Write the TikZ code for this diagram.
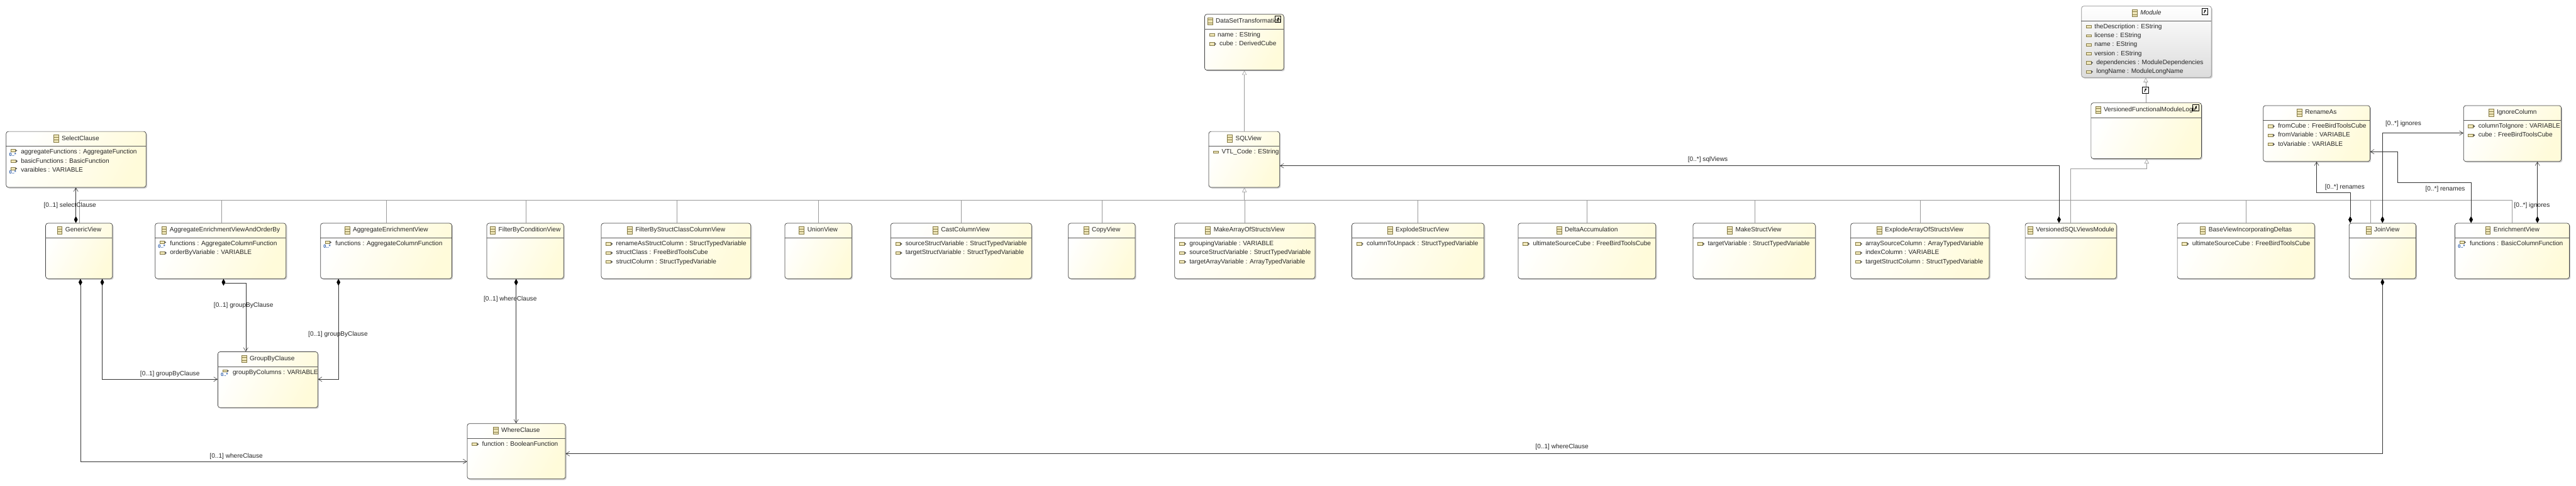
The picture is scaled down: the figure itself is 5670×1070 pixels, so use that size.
\documentclass[tikz,border=0pt]{standalone}
\usepackage{fontspec}
\setmainfont{Liberation Sans}
\usepackage{tikz}
\usetikzlibrary{arrows.meta,calc}
\definecolor{boxyellow}{HTML}{FFFBDA}
\definecolor{boxgray}{HTML}{DCDCDC}
\definecolor{icontan}{HTML}{EFE6B8}
\definecolor{iconedge}{HTML}{857A45}
\definecolor{genline}{HTML}{9A9A9A}
\definecolor{manyblue}{HTML}{2A5CAA}
\tikzset{
  box/.style={draw=black!75, rounded corners=5pt, top color=white, bottom color=boxyellow,
              shading angle=62, inner sep=0pt, line width=1pt},
  absbox/.style={box, draw=black!45, bottom color=boxgray},
  shade/.style={fill=black!18, rounded corners=5pt},
  hdr/.style={draw=black!65, line width=1pt},
  ttl/.style={font=\fontsize{14}{16}\selectfont, inner sep=0pt, text=black!85,
              text height=10.5pt, text depth=3pt},
  att/.style={ttl, anchor=west},
  lbl/.style={ttl},
  rel/.style={line width=.8pt, black!80},
  comp/.style={rel, {Diamond[length=15pt,width=8pt,black]}-{Straight Barb[length=8pt,width=10pt]}},
  gen/.style={line width=.8pt, genline},
  gentip/.style={gen, -{Triangle[open,fill=white,length=10pt,width=10pt]}},
  iconc/.pic={
    \draw[iconedge, fill=icontan, line width=.8pt] (0,-8) rectangle (11,8);
    \draw[iconedge, line width=.8pt] (0,-3) -- (11,-3) (0,3) -- (11,3);},
  icona/.pic={\draw[iconedge, fill=icontan, line width=1pt] (0,-2.5) rectangle (11,2.5);},
  iconr/.pic={
    \draw[iconedge, fill=icontan, line width=1pt] (0,-3) rectangle (11,3);
    \fill[black!65] (11,-3) -- (15,0) -- (11,3) -- cycle;},
  iconm/.pic={
    \draw[iconedge, fill=icontan, line width=1pt] (0,-6) rectangle (10,-1);
    \fill[black!65] (10,-6) -- (14,-3.5) -- (10,-1) -- cycle;
    \node[inner sep=0pt, text=manyblue, font=\fontsize{10.5}{10.5}\bfseries\selectfont] (m) at (4,5) {0..*};},
  iconl/.pic={
    \draw[black, line width=1pt] (-6.5,-7) rectangle (6.5,7);
    \draw[black, line width=1.4pt, -{Latex[length=4pt,width=5pt]}] (-2,4) -- (2,-4);},
  iconw/.pic={
    \fill[white] (-6.5,-7) rectangle (6.5,7);
    \draw[black, line width=1pt] (-6.5,-7) rectangle (6.5,7);
    \draw[black, line width=1.4pt, -{Latex[length=4pt,width=5pt]}] (-2,4) -- (2,-4);}
}
\newcommand{\umlclass}[8][box]{%
  \fill[shade] (#3+3,#4+3) rectangle (#5+3,#6+3);
  \pgfmathsetmacro{\bw}{#5-#3}\pgfmathsetmacro{\bh}{#6-#4}\pgfmathsetmacro{\hy}{#4+33}
  \node[#1, minimum width=\bw pt, minimum height=\bh pt, anchor=north west] (#2) at (#3,#4) {};
  \draw[hdr] (#3,\hy) -- (#5,\hy);
  \node[ttl] (#2-t) at ({(#3+#5)/2+10},#4+16) {#7};
  \pic (#2-c) at ([xshift=-18pt]#2-t.west) {iconc};
  \foreach \k/\t [count=\i] in {#8} {
    \pgfmathsetmacro{\ay}{#4+46+(\i-1)*19.8}
    \pic (#2-i\i) at (#3+11,\ay) {icon\k};
    \if a\k \node[att] (#2-\i) at (#3+29,\ay) {\t};
    \else \node[att] (#2-\i) at (#3+33,\ay) {\t}; \fi
  }
}
\begin{document}
\begin{tikzpicture}[x=1pt,y=-1pt]
\useasboundingbox (0,0) rectangle (5670,1070);
\coordinate (bus) at (0,441);
\umlclass{sc}{13}{289}{321}{412}{SelectClause}{m/aggregateFunctions : AggregateFunction,r/basicFunctions : BasicFunction,m/varaibles : VARIABLE}
\umlclass{gv}{100}{491}{247}{613}{GenericView}{}
\umlclass{ao}{341}{491}{629}{613}{AggregateEnrichmentViewAndOrderBy}{m/functions : AggregateColumnFunction,r/orderByVariable : VARIABLE}
\umlclass{ae}{705}{491}{994}{613}{AggregateEnrichmentView}{m/functions : AggregateColumnFunction}
\umlclass{fc}{1071}{491}{1240}{613}{FilterByConditionView}{}
\umlclass{fs}{1323}{491}{1652}{613}{FilterByStructClassColumnView}{r/renameAsStructColumn : StructTypedVariable,r/structClass : FreeBirdToolsCube,r/structColumn : StructTypedVariable}
\umlclass{uv}{1727}{491}{1874}{613}{UnionView}{}
\umlclass{cc}{1960}{491}{2270}{613}{CastColumnView}{r/sourceStructVariable : StructTypedVariable,r/targetStructVariable : StructTypedVariable}
\umlclass{cv}{2351}{491}{2498}{613}{CopyView}{}
\umlclass{ma}{2585}{491}{2894}{613}{MakeArrayOfStructsView}{r/groupingVariable : VARIABLE,r/sourceStructVariable : StructTypedVariable,r/targetArrayVariable : ArrayTypedVariable}
\umlclass{es}{2975}{491}{3266}{613}{ExplodeStructView}{r/columnToUnpack : StructTypedVariable}
\umlclass{da}{3341}{491}{3644}{613}{DeltaAccumulation}{r/ultimateSourceCube : FreeBirdToolsCube}
\umlclass{ms}{3726}{491}{3995}{613}{MakeStructView}{r/targetVariable : StructTypedVariable}
\umlclass{ea}{4073}{491}{4378}{613}{ExplodeArrayOfStructsView}{r/arraySourceColumn : ArrayTypedVariable,r/indexColumn : VARIABLE,r/targetStructColumn : StructTypedVariable}
\umlclass{vs}{4457}{491}{4658}{613}{VersionedSQLViewsModule}{}
\umlclass{bv}{4792}{491}{5094}{613}{BaseViewIncorporatingDeltas}{r/ultimateSourceCube : FreeBirdToolsCube}
\umlclass{jv}{5170}{491}{5317}{613}{JoinView}{}
\umlclass{ev}{5403}{491}{5655}{613}{EnrichmentView}{m/functions : BasicColumnFunction}
\umlclass{gb}{479}{774}{699}{897}{GroupByClause}{m/groupByColumns : VARIABLE}
\umlclass{wc}{1028}{932}{1244}{1054}{WhereClause}{r/function : BooleanFunction}
\umlclass{dt}{2651}{31}{2825}{154}{DataSetTransformation}{a/name : EString,r/cube : DerivedCube}
\umlclass{sv}{2660}{289}{2816}{412}{SQLView}{a/VTL\_Code : EString}
\umlclass[absbox]{mo}{4581}{13}{4867}{170}{\textit{Module}}{a/theDescription : EString,a/license : EString,a/name : EString,a/version : EString,r/dependencies : ModuleDependencies,r/longName : ModuleLongName}
\umlclass{vf}{4602}{226}{4845}{349}{VersionedFunctionalModuleLogic}{}
\umlclass{ra}{4981}{232}{5216}{355}{RenameAs}{r/fromCube : FreeBirdToolsCube,r/fromVariable : VARIABLE,r/toVariable : VARIABLE}
\umlclass{ic}{5422}{232}{5637}{355}{IgnoreColumn}{r/columnToIgnore : VARIABLE,r/cube : FreeBirdToolsCube}
\pic (ldt) at (2813,42) {iconl};
\pic (lmo) at (4853,25) {iconl};
\pic (lvf) at (4833,237) {iconl};
\draw[gen, line width=1.3pt] (175,0 |- gv.north) |- (5530,0 |- bus) -- (5530,0 |- ev.north);
\foreach \k/\x in {ao/487,ae/851,fc/1157,fs/1490,uv/1802,cc/2116,cv/2425,ma/2740,es/3121,da/3493,ms/3862,ea/4226,bv/4943,jv/5217}
  \draw[gen] (\x,0 |- \k.north) -- (\x,0 |- bus);
\draw[gentip] (2739,0 |- bus) -- (2739,0 |- sv.south);
\draw[gentip] (2739,0 |- sv.north) -- (2739,0 |- dt.south);
\draw[gentip] (4557,0 |- vs.north) -- (4557,372) -| (4725,0 |- vf.south);
\draw[gentip] (4723,0 |- vf.north) -- (4723,0 |- mo.south);
\pic (lge) at (4722,198) {iconw};
\draw[comp] (167,0 |- gv.north) -- (167,0 |- sc.south);
\draw[comp] (225,0 |- gv.south) |- (gb.west |- 0,835);
\draw[comp] (177,0 |- gv.south) |- (wc.west |- 0,1016);
\draw[comp] (492,0 |- ao.south) -- (492,623) -| (541,0 |- gb.north);
\draw[comp] (745,0 |- ae.south) |- (gb.east |- 0,835);
\draw[comp] (1136,0 |- fc.south) -- (1136,0 |- wc.north);
\draw[comp] (4532,0 |- vs.north) |- (sv.east |- 0,365);
\draw[comp] (5173,0 |- jv.north) -- (5173,424) -| (5099,0 |- ra.south);
\draw[comp] (5244,0 |- jv.north) |- (ic.west |- 0,293);
\draw[comp] (5244,0 |- jv.south) |- (wc.east |- 0,999);
\draw[comp] (5439,0 |- ev.north) -- (5439,402) -- (5277,402) |- (ra.east |- 0,334);
\draw[comp] (5585,0 |- ev.north) -- (5585,0 |- ic.south);
\node[lbl] (lsc) at (154,453) {[0..1] selectClause};
\node[lbl] (lg1) at (374,823) {[0..1] groupByClause};
\node[lbl] (lg2) at (536,673) {[0..1] groupByClause};
\node[lbl] (lg3) at (744,736) {[0..1] groupByClause};
\node[lbl] (lw1) at (520,1004) {[0..1] whereClause};
\node[lbl] (lw2) at (1123,658) {[0..1] whereClause};
\node[lbl] (lw3) at (3438,984) {[0..1] whereClause};
\node[lbl] (lsq) at (3759,351) {[0..*] sqlViews};
\node[lbl] (lr1) at (5161,412) {[0..*] renames};
\node[lbl] (lr2) at (5382,417) {[0..*] renames};
\node[lbl] (li1) at (5290,273) {[0..*] ignores};
\node[lbl] (li2) at (5573,453) {[0..*] ignores};
\end{tikzpicture}
\end{document}
